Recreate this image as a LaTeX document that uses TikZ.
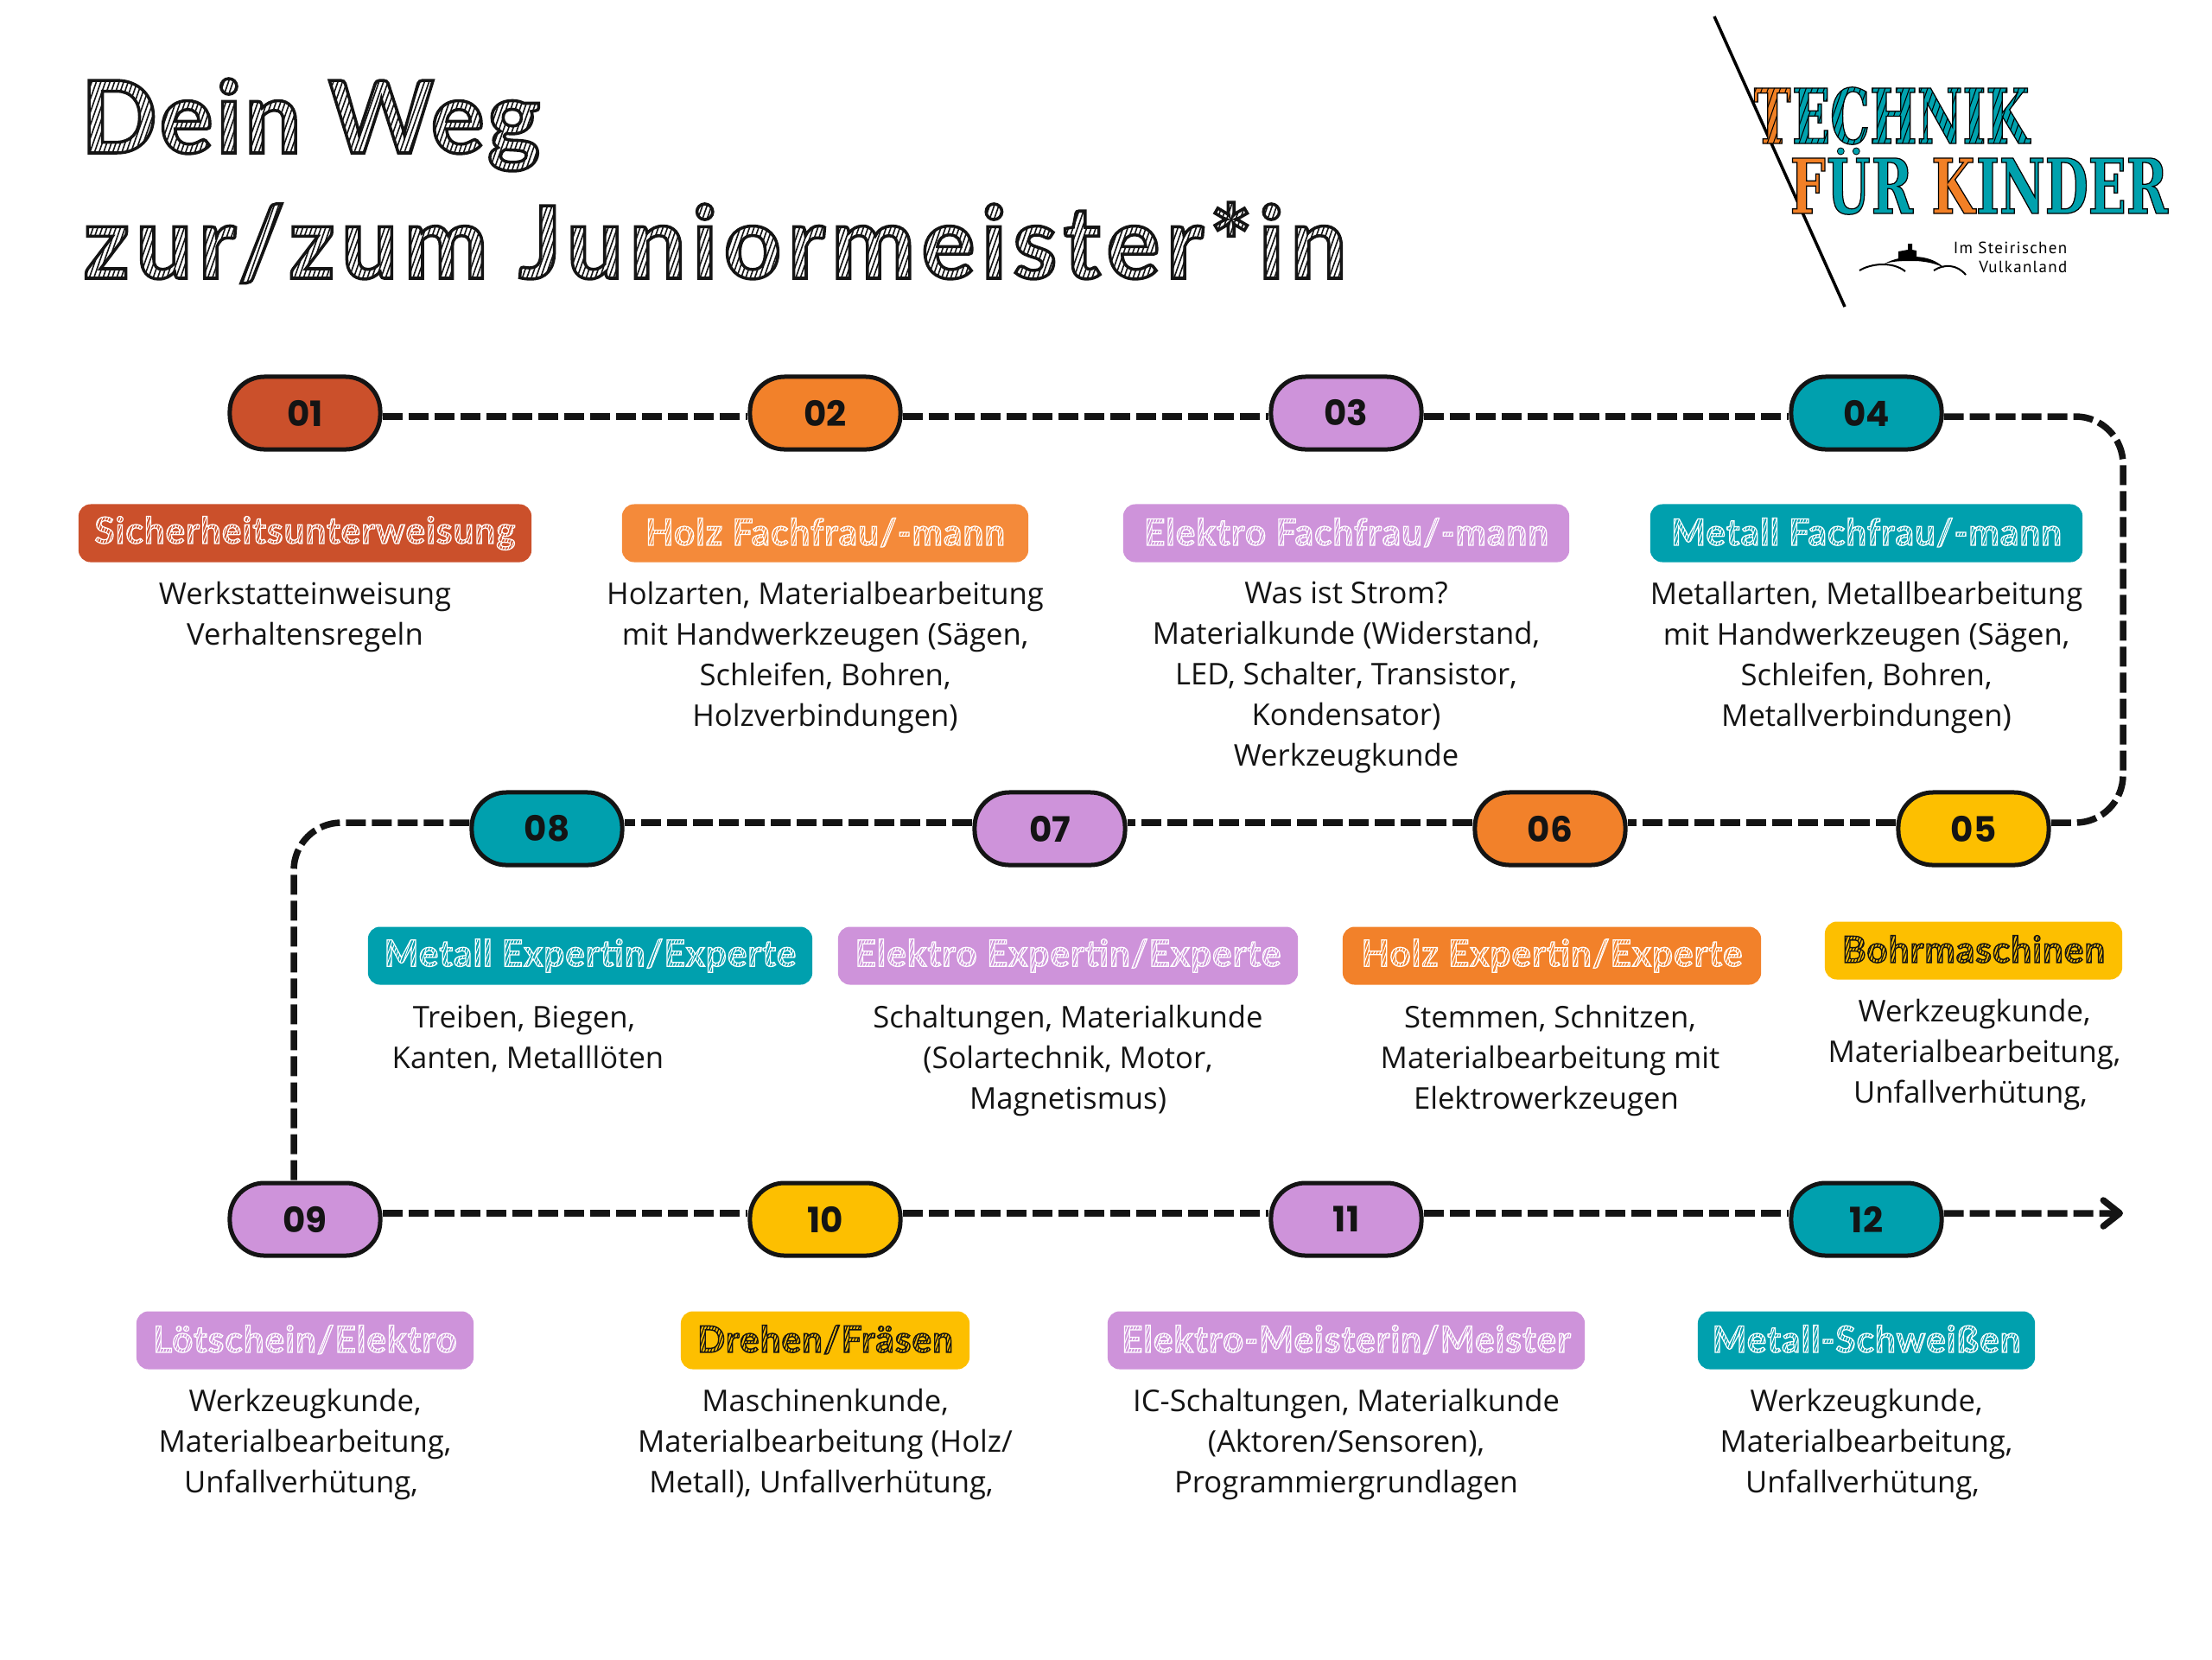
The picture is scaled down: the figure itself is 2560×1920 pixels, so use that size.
\documentclass[tikz,border=0pt]{standalone}
\usepackage{fontspec}
\usepackage{xcolor}
\usetikzlibrary{arrows.meta, positioning, calc}
\setmainfont{Open Sans}
\newfontfamily\numfont{Poppins}
\newfontfamily\sketchfont{Lato}[LetterSpace=2.5]
\newfontfamily\titlefontA{Lato}[LetterSpace=3]
\newfontfamily\titlefontB{Lato}[LetterSpace=6.2]
\newfontfamily\logofont{DejaVu Serif Condensed}[FakeStretch=0.73]
\newfontfamily\logosmall{PT Sans}[LetterSpace=7]
\definecolor{wegred}{HTML}{CB502B}
\definecolor{wegorange}{HTML}{F2812A}
\definecolor{weglabelorange}{HTML}{F48A3A}
\definecolor{wegpurple}{HTML}{CE93DA}
\definecolor{wegteal}{HTML}{00A0AE}
\definecolor{wegyellow}{HTML}{FDBF00}
\definecolor{wegblack}{HTML}{141414}
\definecolor{logoorange}{HTML}{F08024}
\definecolor{logoteal}{HTML}{00A3AF}
% text with an outline, hatched inside the letters
\newbox\hatchbox
\newcommand{\hatchtext}[6]{% mode, text, outline, spacing, hatch width, hatch colour
  \setbox\hatchbox=\hbox{#2}%
  \pgfmathtruncatemacro\hatchn{(\wd\hatchbox+40pt)/#4}%
  \special{pdf:code #1 Tr #3 w}\copy\hatchbox\special{pdf:code 0 Tr}%
  \begin{tikzpicture}[overlay]
    \foreach \i in {0,...,\hatchn}
      \draw[#6, line width=#5] (-\i*#4+8pt,-12pt) -- ++(14pt,40pt);
  \end{tikzpicture}}
\newcommand{\logocol}[2]{\special{pdf:code #1 rg}#2}
\newcommand{\logosolid}[2]{\special{pdf:code 2 Tr 0.35 w}\logocol{#1}{#2}\special{pdf:code 0 Tr 0 g}}
\newcommand{\trail}{\kern2.6pt}
\tikzset{
  pill/.style={draw=wegblack, line width=0.05cm, rounded corners=0.40cm, minimum width=1.74cm, minimum height=0.84cm, inner sep=0pt, font=\numfont\bfseries\fontsize{11.5}{13}\selectfont, text=wegblack},
  tag/.style={rounded corners=0.14cm, minimum height=0.67cm, inner sep=0pt, text=white, font=\sketchfont\bfseries\fontsize{12}{14}\selectfont},
  body/.style={anchor=north, align=center, inner sep=0pt, text=wegblack, font=\fontsize{9.85}{13.4}\selectfont},
  wegline/.style={draw=wegblack, line width=0.075cm, dash pattern=on 0.23cm off 0.07cm},
  title/.style={anchor=base west, inner sep=0pt, text=wegblack},
  logotext/.style={anchor=base west, inner sep=0pt, font=\logofont\bfseries\fontsize{25}{27}\selectfont},
  logodot/.style={fill=logoteal, draw=black, line width=0.008cm}
}
\newcommand{\tagw}[1]{\raisebox{1pt}{\hatchtext{5}{#1}{0.35}{1pt}{0.28pt}{white}}}
\newcommand{\tagb}[1]{\raisebox{1pt}{\hatchtext{5}{#1}{0.4}{1pt}{0.35pt}{wegblack}}}
\newcommand{\titlehatch}[1]{\hatchtext{5}{#1}{1.0}{1.5pt}{0.45pt}{wegblack}}
\begin{document}
\begin{tikzpicture}[x=0.01cm,y=-0.01cm]
  \useasboundingbox (0,0) rectangle (2560,1920);
  % heading
  \node[title, font=\titlefontA\bfseries\fontsize{33}{36}\selectfont] (title1) at (93,177) {\titlehatch{Dein Weg}};
  \node[title, font=\titlefontB\bfseries\fontsize{33}{36}\selectfont] (title2) at (96,322) {\titlehatch{zur/zum Juniormeister*in}};
  % logo
  \coordinate (slash1) at (1984,19);
  \coordinate (slash2) at (2135,355);
  \draw[black, line width=0.035cm] (slash1) -- (slash2);
  \node[logotext] (logo1a) at (2029,166) {\hatchtext{6}{\color{logoorange}\special{pdf:code 0 G}T}{0.35}{2pt}{0.3pt}{black}};
  \node[logotext] (logo1b) at (logo1a.base east) {\hatchtext{6}{\color{logoteal}\special{pdf:code 0 G}ECHNIK}{0.35}{2pt}{0.3pt}{black}};
  \node[logotext] (logo2a) at (2071,247) {\logosolid{0.95 0.5 0.15}{F}};
  \begin{scope}
    \clip (2090,179) rectangle (2190,260);
    \node[logotext] (logo2b) at (logo2a.base east) {\logosolid{0 0.63 0.68}{Ü}};
  \end{scope}
  \draw[logodot] ($(logo2b.base)+(-9,-72)$) circle (4);
  \draw[logodot] ($(logo2b.base)+(9,-72)$) circle (4);
  \node[logotext] (logo2c) at (logo2b.base east) {\logosolid{0 0.63 0.68}{R }};
  \node[logotext] (logo2d) at (logo2c.base east) {\logosolid{0.95 0.5 0.15}{K}};
  \node[logotext] (logo2e) at (logo2d.base east) {\logosolid{0 0.63 0.68}{INDER}};
  \node[anchor=north east, align=right, inner sep=0pt, font=\logosmall\fontsize{5.4}{6.4}\selectfont] (logo3) at (2393,279) {Im Steirischen\\Vulkanland};
  \fill (2197,302) -- (2197,291) -- (2208,289) -- (2208,282) -- (2213,282) -- (2213,289) -- (2218,290) -- (2218,302) -- cycle;
  \fill (2181,305) .. controls (2200,295) and (2232,292) .. (2250,310) .. controls (2232,300) and (2200,300) .. cycle;
  \draw[line width=0.02cm] (2152,313) .. controls (2165,305) and (2190,302) .. (2205,314);
  \draw[line width=0.02cm] (2238,313) .. controls (2250,305) and (2265,306) .. (2275,318);
  % first row
  \node[pill, fill=wegred] (p01) at (353,478) {01};
  \node[pill, fill=wegorange] (p02) at (955,478) {02};
  \node[pill, fill=wegpurple] (p03) at (1558,478) {03};
  \node[pill, fill=wegteal] (p04) at (2160,478) {04};
  \node[tag, fill=wegred, minimum width=5.24cm] (t01) at (353,617) {\tagw{Sicherheitsunterweisung}};
  \node[tag, fill=weglabelorange, minimum width=4.70cm] (t02) at (955,617) {\tagw{Holz Fachfrau/-mann}};
  \node[tag, fill=wegpurple, minimum width=5.16cm] (t03) at (1558,617) {\tagw{Elektro Fachfrau/-mann}};
  \node[tag, fill=wegteal, minimum width=5.00cm] (t04) at (2160,617) {\tagw{Metall Fachfrau/-mann}};
  \node[body] (b01) at (353,672) {Werkstatteinweisung\\Verhaltensregeln};
  \node[body] (b02) at (955,672) {Holzarten, Materialbearbeitung\\mit Handwerkzeugen (Sägen,\\Schleifen, Bohren,\\Holzverbindungen)};
  \node[body] (b03) at (1558,672) {Was ist Strom?\\Materialkunde (Widerstand,\\LED, Schalter, Transistor,\\Kondensator)\\Werkzeugkunde};
  \node[body] (b04) at (2160,672) {Metallarten, Metallbearbeitung\\mit Handwerkzeugen (Sägen,\\Schleifen, Bohren,\\Metallverbindungen)};
  % second row
  \node[pill, fill=wegteal] (p08) at (633,959) {08};
  \node[pill, fill=wegpurple] (p07) at (1215,959) {07};
  \node[pill, fill=wegorange] (p06) at (1794,959) {06};
  \node[pill, fill=wegyellow] (p05) at (2284,959) {05};
  \node[tag, fill=wegteal, minimum width=5.14cm] (t08) at (683,1106) {\tagw{Metall Expertin/Experte}};
  \node[tag, fill=wegpurple, minimum width=5.32cm] (t07) at (1236,1106) {\tagw{Elektro Expertin/Experte}};
  \node[tag, fill=wegorange, minimum width=4.84cm] (t06) at (1796,1106) {\tagw{Holz Expertin/Experte}};
  \node[tag, fill=wegyellow, text=wegblack, minimum width=3.44cm] (t05) at (2284,1100) {\tagb{Bohrmaschinen}};
  \node[body] (b08) at (611,1162) {Treiben, Biegen,\trail\\Kanten, Metalllöten};
  \node[body] (b07) at (1236,1162) {Schaltungen, Materialkunde\\(Solartechnik, Motor,\\Magnetismus)};
  \node[body] (b06) at (1794,1162) {Stemmen, Schnitzen,\\Materialbearbeitung mit\\Elektrowerkzeugen\trail};
  \node[body] (b05) at (2285,1155) {Werkzeugkunde,\\Materialbearbeitung,\\Unfallverhütung,\trail};
  % third row
  \node[pill, fill=wegpurple] (p09) at (353,1411) {09};
  \node[pill, fill=wegyellow] (p10) at (955,1411) {10};
  \node[pill, fill=wegpurple] (p11) at (1558,1411) {11};
  \node[pill, fill=wegteal] (p12) at (2160,1411) {12};
  \node[tag, fill=wegpurple, minimum width=3.90cm] (t09) at (353,1551) {\tagw{Lötschein/Elektro}};
  \node[tag, fill=wegyellow, text=wegblack, minimum width=3.34cm] (t10) at (955,1551) {\tagb{Drehen/Fräsen}};
  \node[tag, fill=wegpurple, minimum width=5.52cm] (t11) at (1558,1551) {\tagw{Elektro-Meisterin/Meister}};
  \node[tag, fill=wegteal, minimum width=3.90cm] (t12) at (2160,1551) {\tagw{Metall-Schweißen}};
  \node[body] (b09) at (353,1606) {Werkzeugkunde,\\Materialbearbeitung,\\Unfallverhütung,\trail};
  \node[body] (b10) at (955,1606) {Maschinenkunde,\\Materialbearbeitung (Holz/\\Metall), Unfallverhütung,\trail};
  \node[body] (b11) at (1558,1606) {IC-Schaltungen, Materialkunde\\(Aktoren/Sensoren),\\Programmiergrundlagen};
  \node[body] (b12) at (2160,1606) {Werkzeugkunde,\\Materialbearbeitung,\\Unfallverhütung,\trail};
  % connectors
  \coordinate (turnright1) at (2457,482);
  \coordinate (turnright2) at (2457,952);
  \coordinate (turnleft1) at (340,952);
  \coordinate (turnleft2) at (340,1369);
  \coordinate (wegend) at (2457,1404);
  \draw[wegline] ([yshift=-0.04cm]p01.east) -- ([yshift=-0.04cm]p02.west);
  \draw[wegline] ([yshift=-0.04cm]p02.east) -- ([yshift=-0.04cm]p03.west);
  \draw[wegline] ([yshift=-0.04cm]p03.east) -- ([yshift=-0.04cm]p04.west);
  \draw[wegline, rounded corners=0.55cm] ([yshift=-0.04cm]p04.east) -- (turnright1) -- (turnright2) -- ([yshift=0.07cm]p05.east);
  \draw[wegline] ([yshift=0.07cm]p05.west) -- ([yshift=0.07cm]p06.east);
  \draw[wegline] ([yshift=0.07cm]p06.west) -- ([yshift=0.07cm]p07.east);
  \draw[wegline] ([yshift=0.07cm]p07.west) -- ([yshift=0.07cm]p08.east);
  \draw[wegline, rounded corners=0.55cm] ([yshift=0.07cm]p08.west) -- (turnleft1) -- (turnleft2);
  \draw[wegline] ([yshift=0.07cm]p09.east) -- ([yshift=0.07cm]p10.west);
  \draw[wegline] ([yshift=0.07cm]p10.east) -- ([yshift=0.07cm]p11.west);
  \draw[wegline] ([yshift=0.07cm]p11.east) -- ([yshift=0.07cm]p12.west);
  \draw[wegline, -{Straight Barb[length=0.19cm, width=0.30cm, round]}] ([yshift=0.07cm]p12.east) -- (wegend);
\end{tikzpicture}
\end{document}
